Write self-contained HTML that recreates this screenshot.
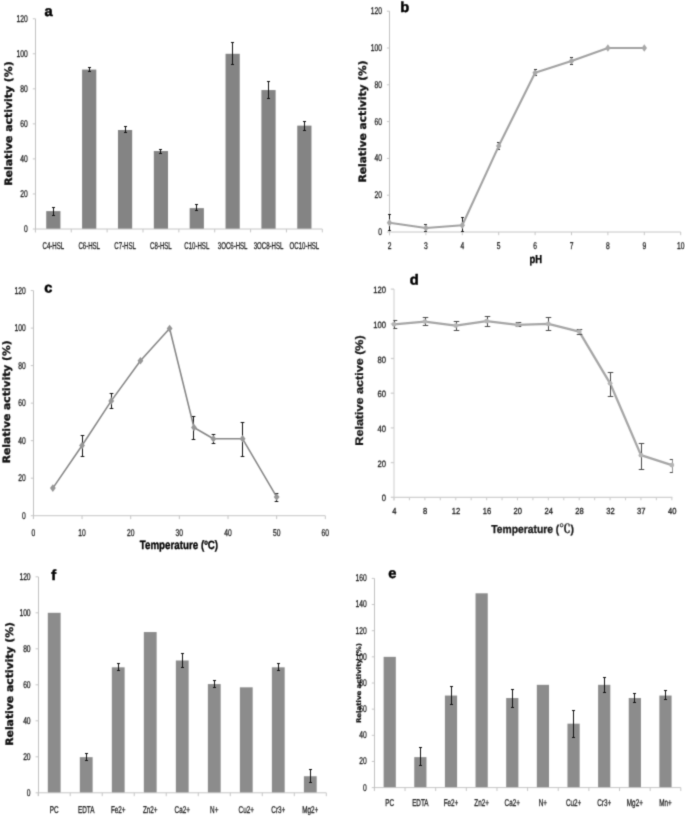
<!DOCTYPE html>
<html lang="en">
<head>
<meta charset="utf-8">
<title>Figure: relative activity panels a-f</title>
<style>
html,body{margin:0;padding:0;background:#fff;}
body{width:685px;height:816px;overflow:hidden;font-family:"Liberation Sans","DejaVu Sans",sans-serif;}
svg{display:block;}
svg text{text-rendering:geometricPrecision;}

.tk{stroke:#1c1c1c;stroke-width:0.3px;}
</style>
</head>
<body>
<svg width="685" height="816" viewBox="0 0 685 816">
<rect x="0" y="0" width="685" height="816" fill="#ffffff"/>
<defs><filter id="soft" x="-2%" y="-2%" width="104%" height="104%" color-interpolation-filters="sRGB"><feConvolveMatrix order="3" kernelMatrix="0.0225 0.1050 0.0225 0.1050 0.4900 0.1050 0.0225 0.1050 0.0225" divisor="1" edgeMode="duplicate" preserveAlpha="false"/></filter></defs>
<g id="fig" filter="url(#soft)">
<g id="panel-a">
<line x1="35.50" y1="18.76" x2="35.50" y2="232.20" stroke="#b6b6b6" stroke-width="0.85"/>
<line x1="32.80" y1="229.00" x2="35.40" y2="229.00" stroke="#c6c6c6" stroke-width="1"/>
<text transform="translate(27.80,231.94) scale(0.685,1)" font-family='"Liberation Sans", "DejaVu Sans", sans-serif' font-size="9.8" font-weight="normal" text-anchor="end" fill="#1c1c1c" class="tk">0</text>
<line x1="32.80" y1="193.96" x2="35.40" y2="193.96" stroke="#c6c6c6" stroke-width="1"/>
<text transform="translate(27.80,196.90) scale(0.685,1)" font-family='"Liberation Sans", "DejaVu Sans", sans-serif' font-size="9.8" font-weight="normal" text-anchor="end" fill="#1c1c1c" class="tk">20</text>
<line x1="32.80" y1="158.92" x2="35.40" y2="158.92" stroke="#c6c6c6" stroke-width="1"/>
<text transform="translate(27.80,161.86) scale(0.685,1)" font-family='"Liberation Sans", "DejaVu Sans", sans-serif' font-size="9.8" font-weight="normal" text-anchor="end" fill="#1c1c1c" class="tk">40</text>
<line x1="32.80" y1="123.88" x2="35.40" y2="123.88" stroke="#c6c6c6" stroke-width="1"/>
<text transform="translate(27.80,126.82) scale(0.685,1)" font-family='"Liberation Sans", "DejaVu Sans", sans-serif' font-size="9.8" font-weight="normal" text-anchor="end" fill="#1c1c1c" class="tk">60</text>
<line x1="32.80" y1="88.84" x2="35.40" y2="88.84" stroke="#c6c6c6" stroke-width="1"/>
<text transform="translate(27.80,91.78) scale(0.685,1)" font-family='"Liberation Sans", "DejaVu Sans", sans-serif' font-size="9.8" font-weight="normal" text-anchor="end" fill="#1c1c1c" class="tk">80</text>
<line x1="32.80" y1="53.80" x2="35.40" y2="53.80" stroke="#c6c6c6" stroke-width="1"/>
<text transform="translate(27.80,56.74) scale(0.685,1)" font-family='"Liberation Sans", "DejaVu Sans", sans-serif' font-size="9.8" font-weight="normal" text-anchor="end" fill="#1c1c1c" class="tk">100</text>
<line x1="32.80" y1="18.76" x2="35.40" y2="18.76" stroke="#c6c6c6" stroke-width="1"/>
<text transform="translate(27.80,21.70) scale(0.685,1)" font-family='"Liberation Sans", "DejaVu Sans", sans-serif' font-size="9.8" font-weight="normal" text-anchor="end" fill="#1c1c1c" class="tk">120</text>
<rect x="46.23" y="211.13" width="14.20" height="17.87" fill="#848484"/>
<rect x="82.09" y="69.57" width="14.20" height="159.43" fill="#848484"/>
<rect x="117.96" y="130.01" width="14.20" height="98.99" fill="#848484"/>
<rect x="153.82" y="151.04" width="14.20" height="77.96" fill="#848484"/>
<rect x="189.68" y="208.15" width="14.20" height="20.85" fill="#848484"/>
<rect x="225.54" y="53.80" width="14.20" height="175.20" fill="#848484"/>
<rect x="261.41" y="90.07" width="14.20" height="138.93" fill="#848484"/>
<rect x="297.27" y="125.63" width="14.20" height="103.37" fill="#848484"/>
<line x1="35.40" y1="229.00" x2="322.30" y2="229.00" stroke="#c6c6c6" stroke-width="1"/>
<line x1="35.40" y1="229.00" x2="35.40" y2="232.40" stroke="#c6c6c6" stroke-width="1"/>
<line x1="71.26" y1="229.00" x2="71.26" y2="232.40" stroke="#c6c6c6" stroke-width="1"/>
<line x1="107.12" y1="229.00" x2="107.12" y2="232.40" stroke="#c6c6c6" stroke-width="1"/>
<line x1="142.99" y1="229.00" x2="142.99" y2="232.40" stroke="#c6c6c6" stroke-width="1"/>
<line x1="178.85" y1="229.00" x2="178.85" y2="232.40" stroke="#c6c6c6" stroke-width="1"/>
<line x1="214.71" y1="229.00" x2="214.71" y2="232.40" stroke="#c6c6c6" stroke-width="1"/>
<line x1="250.58" y1="229.00" x2="250.58" y2="232.40" stroke="#c6c6c6" stroke-width="1"/>
<line x1="286.44" y1="229.00" x2="286.44" y2="232.40" stroke="#c6c6c6" stroke-width="1"/>
<line x1="322.30" y1="229.00" x2="322.30" y2="232.40" stroke="#c6c6c6" stroke-width="1"/>
<line x1="53.50" y1="207.00" x2="53.50" y2="216.00" stroke="#111" stroke-width="1.0"/>
<line x1="52.00" y1="207.50" x2="55.00" y2="207.50" stroke="#111" stroke-width="1.0"/>
<line x1="52.00" y1="215.50" x2="55.00" y2="215.50" stroke="#111" stroke-width="1.0"/>
<text transform="translate(53.33,248.80) scale(0.62,1)" font-family='"Liberation Sans", "DejaVu Sans", sans-serif' font-size="9.8" font-weight="normal" text-anchor="middle" fill="#1c1c1c" class="tk">C4-HSL</text>
<line x1="89.50" y1="67.00" x2="89.50" y2="72.00" stroke="#111" stroke-width="1.0"/>
<line x1="88.00" y1="67.50" x2="91.00" y2="67.50" stroke="#111" stroke-width="1.0"/>
<line x1="88.00" y1="71.50" x2="91.00" y2="71.50" stroke="#111" stroke-width="1.0"/>
<text transform="translate(89.19,248.80) scale(0.62,1)" font-family='"Liberation Sans", "DejaVu Sans", sans-serif' font-size="9.8" font-weight="normal" text-anchor="middle" fill="#1c1c1c" class="tk">C6-HSL</text>
<line x1="125.50" y1="126.00" x2="125.50" y2="133.00" stroke="#111" stroke-width="1.0"/>
<line x1="124.00" y1="126.50" x2="127.00" y2="126.50" stroke="#111" stroke-width="1.0"/>
<line x1="124.00" y1="132.50" x2="127.00" y2="132.50" stroke="#111" stroke-width="1.0"/>
<text transform="translate(125.06,248.80) scale(0.62,1)" font-family='"Liberation Sans", "DejaVu Sans", sans-serif' font-size="9.8" font-weight="normal" text-anchor="middle" fill="#1c1c1c" class="tk">C7-HSL</text>
<line x1="160.50" y1="149.00" x2="160.50" y2="154.00" stroke="#111" stroke-width="1.0"/>
<line x1="159.00" y1="149.50" x2="162.00" y2="149.50" stroke="#111" stroke-width="1.0"/>
<line x1="159.00" y1="153.50" x2="162.00" y2="153.50" stroke="#111" stroke-width="1.0"/>
<text transform="translate(160.92,248.80) scale(0.62,1)" font-family='"Liberation Sans", "DejaVu Sans", sans-serif' font-size="9.8" font-weight="normal" text-anchor="middle" fill="#1c1c1c" class="tk">C8-HSL</text>
<line x1="196.50" y1="204.00" x2="196.50" y2="211.00" stroke="#111" stroke-width="1.0"/>
<line x1="195.00" y1="204.50" x2="198.00" y2="204.50" stroke="#111" stroke-width="1.0"/>
<line x1="195.00" y1="210.50" x2="198.00" y2="210.50" stroke="#111" stroke-width="1.0"/>
<text transform="translate(196.78,248.80) scale(0.62,1)" font-family='"Liberation Sans", "DejaVu Sans", sans-serif' font-size="9.8" font-weight="normal" text-anchor="middle" fill="#1c1c1c" class="tk">C10-HSL</text>
<line x1="232.50" y1="42.00" x2="232.50" y2="65.00" stroke="#111" stroke-width="1.0"/>
<line x1="231.00" y1="42.50" x2="234.00" y2="42.50" stroke="#111" stroke-width="1.0"/>
<line x1="231.00" y1="64.50" x2="234.00" y2="64.50" stroke="#111" stroke-width="1.0"/>
<text transform="translate(232.64,248.80) scale(0.62,1)" font-family='"Liberation Sans", "DejaVu Sans", sans-serif' font-size="9.8" font-weight="normal" text-anchor="middle" fill="#1c1c1c" class="tk">3OC6-HSL</text>
<line x1="268.50" y1="81.00" x2="268.50" y2="99.00" stroke="#111" stroke-width="1.0"/>
<line x1="267.00" y1="81.50" x2="270.00" y2="81.50" stroke="#111" stroke-width="1.0"/>
<line x1="267.00" y1="98.50" x2="270.00" y2="98.50" stroke="#111" stroke-width="1.0"/>
<text transform="translate(268.51,248.80) scale(0.62,1)" font-family='"Liberation Sans", "DejaVu Sans", sans-serif' font-size="9.8" font-weight="normal" text-anchor="middle" fill="#1c1c1c" class="tk">3OC8-HSL</text>
<line x1="304.50" y1="121.00" x2="304.50" y2="131.00" stroke="#111" stroke-width="1.0"/>
<line x1="303.00" y1="121.50" x2="306.00" y2="121.50" stroke="#111" stroke-width="1.0"/>
<line x1="303.00" y1="130.50" x2="306.00" y2="130.50" stroke="#111" stroke-width="1.0"/>
<text transform="translate(304.37,248.80) scale(0.62,1)" font-family='"Liberation Sans", "DejaVu Sans", sans-serif' font-size="9.8" font-weight="normal" text-anchor="middle" fill="#1c1c1c" class="tk">OC10-HSL</text>
<text transform="translate(11.50,123.60) rotate(-90)" font-family='"DejaVu Sans", "Liberation Sans", sans-serif' font-size="10.2" font-weight="bold" text-anchor="middle" fill="#111" stroke="#111" stroke-width="0.35" textLength="124.4" lengthAdjust="spacingAndGlyphs">Relative activity (%)</text>
<text transform="translate(44.6,16) rotate(0.3)" font-family='"Liberation Sans", "DejaVu Sans", sans-serif' font-size="14.6" font-weight="bold" fill="#000" stroke="#000" stroke-width="0.5" stroke-linejoin="round">a</text>
</g>
<g id="panel-b">
<line x1="389.50" y1="11.20" x2="389.50" y2="235.20" stroke="#b6b6b6" stroke-width="0.85"/>
<line x1="386.90" y1="232.00" x2="389.50" y2="232.00" stroke="#c6c6c6" stroke-width="1"/>
<text transform="translate(381.90,234.94) scale(0.685,1)" font-family='"Liberation Sans", "DejaVu Sans", sans-serif' font-size="9.8" font-weight="normal" text-anchor="end" fill="#1c1c1c" class="tk">0</text>
<line x1="386.90" y1="195.20" x2="389.50" y2="195.20" stroke="#c6c6c6" stroke-width="1"/>
<text transform="translate(381.90,198.14) scale(0.685,1)" font-family='"Liberation Sans", "DejaVu Sans", sans-serif' font-size="9.8" font-weight="normal" text-anchor="end" fill="#1c1c1c" class="tk">20</text>
<line x1="386.90" y1="158.40" x2="389.50" y2="158.40" stroke="#c6c6c6" stroke-width="1"/>
<text transform="translate(381.90,161.34) scale(0.685,1)" font-family='"Liberation Sans", "DejaVu Sans", sans-serif' font-size="9.8" font-weight="normal" text-anchor="end" fill="#1c1c1c" class="tk">40</text>
<line x1="386.90" y1="121.60" x2="389.50" y2="121.60" stroke="#c6c6c6" stroke-width="1"/>
<text transform="translate(381.90,124.54) scale(0.685,1)" font-family='"Liberation Sans", "DejaVu Sans", sans-serif' font-size="9.8" font-weight="normal" text-anchor="end" fill="#1c1c1c" class="tk">60</text>
<line x1="386.90" y1="84.80" x2="389.50" y2="84.80" stroke="#c6c6c6" stroke-width="1"/>
<text transform="translate(381.90,87.74) scale(0.685,1)" font-family='"Liberation Sans", "DejaVu Sans", sans-serif' font-size="9.8" font-weight="normal" text-anchor="end" fill="#1c1c1c" class="tk">80</text>
<line x1="386.90" y1="48.00" x2="389.50" y2="48.00" stroke="#c6c6c6" stroke-width="1"/>
<text transform="translate(381.90,50.94) scale(0.685,1)" font-family='"Liberation Sans", "DejaVu Sans", sans-serif' font-size="9.8" font-weight="normal" text-anchor="end" fill="#1c1c1c" class="tk">100</text>
<line x1="386.90" y1="11.20" x2="389.50" y2="11.20" stroke="#c6c6c6" stroke-width="1"/>
<text transform="translate(381.90,14.14) scale(0.685,1)" font-family='"Liberation Sans", "DejaVu Sans", sans-serif' font-size="9.8" font-weight="normal" text-anchor="end" fill="#1c1c1c" class="tk">120</text>
<line x1="389.50" y1="232.00" x2="680.70" y2="232.00" stroke="#c6c6c6" stroke-width="1"/>
<line x1="389.50" y1="232.00" x2="389.50" y2="235.20" stroke="#c6c6c6" stroke-width="1"/>
<text transform="translate(389.50,249.20) scale(0.685,1)" font-family='"Liberation Sans", "DejaVu Sans", sans-serif' font-size="9.8" font-weight="normal" text-anchor="middle" fill="#1c1c1c" class="tk">2</text>
<line x1="425.90" y1="232.00" x2="425.90" y2="235.20" stroke="#c6c6c6" stroke-width="1"/>
<text transform="translate(425.90,249.20) scale(0.685,1)" font-family='"Liberation Sans", "DejaVu Sans", sans-serif' font-size="9.8" font-weight="normal" text-anchor="middle" fill="#1c1c1c" class="tk">3</text>
<line x1="462.30" y1="232.00" x2="462.30" y2="235.20" stroke="#c6c6c6" stroke-width="1"/>
<text transform="translate(462.30,249.20) scale(0.685,1)" font-family='"Liberation Sans", "DejaVu Sans", sans-serif' font-size="9.8" font-weight="normal" text-anchor="middle" fill="#1c1c1c" class="tk">4</text>
<line x1="498.70" y1="232.00" x2="498.70" y2="235.20" stroke="#c6c6c6" stroke-width="1"/>
<text transform="translate(498.70,249.20) scale(0.685,1)" font-family='"Liberation Sans", "DejaVu Sans", sans-serif' font-size="9.8" font-weight="normal" text-anchor="middle" fill="#1c1c1c" class="tk">5</text>
<line x1="535.10" y1="232.00" x2="535.10" y2="235.20" stroke="#c6c6c6" stroke-width="1"/>
<text transform="translate(535.10,249.20) scale(0.685,1)" font-family='"Liberation Sans", "DejaVu Sans", sans-serif' font-size="9.8" font-weight="normal" text-anchor="middle" fill="#1c1c1c" class="tk">6</text>
<line x1="571.50" y1="232.00" x2="571.50" y2="235.20" stroke="#c6c6c6" stroke-width="1"/>
<text transform="translate(571.50,249.20) scale(0.685,1)" font-family='"Liberation Sans", "DejaVu Sans", sans-serif' font-size="9.8" font-weight="normal" text-anchor="middle" fill="#1c1c1c" class="tk">7</text>
<line x1="607.90" y1="232.00" x2="607.90" y2="235.20" stroke="#c6c6c6" stroke-width="1"/>
<text transform="translate(607.90,249.20) scale(0.685,1)" font-family='"Liberation Sans", "DejaVu Sans", sans-serif' font-size="9.8" font-weight="normal" text-anchor="middle" fill="#1c1c1c" class="tk">8</text>
<line x1="644.30" y1="232.00" x2="644.30" y2="235.20" stroke="#c6c6c6" stroke-width="1"/>
<text transform="translate(644.30,249.20) scale(0.685,1)" font-family='"Liberation Sans", "DejaVu Sans", sans-serif' font-size="9.8" font-weight="normal" text-anchor="middle" fill="#1c1c1c" class="tk">9</text>
<line x1="680.70" y1="232.00" x2="680.70" y2="235.20" stroke="#c6c6c6" stroke-width="1"/>
<text transform="translate(680.70,249.20) scale(0.685,1)" font-family='"Liberation Sans", "DejaVu Sans", sans-serif' font-size="9.8" font-weight="normal" text-anchor="middle" fill="#1c1c1c" class="tk">10</text>
<line x1="389.50" y1="214.00" x2="389.50" y2="231.00" stroke="#111" stroke-width="1.0"/>
<line x1="388.10" y1="214.50" x2="390.90" y2="214.50" stroke="#111" stroke-width="1.0"/>
<line x1="388.10" y1="230.50" x2="390.90" y2="230.50" stroke="#111" stroke-width="1.0"/>
<line x1="425.50" y1="224.00" x2="425.50" y2="232.00" stroke="#111" stroke-width="1.0"/>
<line x1="424.10" y1="224.50" x2="426.90" y2="224.50" stroke="#111" stroke-width="1.0"/>
<line x1="424.10" y1="231.50" x2="426.90" y2="231.50" stroke="#111" stroke-width="1.0"/>
<line x1="462.50" y1="217.00" x2="462.50" y2="232.00" stroke="#111" stroke-width="1.0"/>
<line x1="461.10" y1="217.50" x2="463.90" y2="217.50" stroke="#111" stroke-width="1.0"/>
<line x1="461.10" y1="231.50" x2="463.90" y2="231.50" stroke="#111" stroke-width="1.0"/>
<line x1="498.50" y1="142.00" x2="498.50" y2="150.00" stroke="#111" stroke-width="1.0"/>
<line x1="497.10" y1="142.50" x2="499.90" y2="142.50" stroke="#111" stroke-width="1.0"/>
<line x1="497.10" y1="149.50" x2="499.90" y2="149.50" stroke="#111" stroke-width="1.0"/>
<line x1="535.50" y1="69.00" x2="535.50" y2="76.00" stroke="#111" stroke-width="1.0"/>
<line x1="534.10" y1="69.50" x2="536.90" y2="69.50" stroke="#111" stroke-width="1.0"/>
<line x1="534.10" y1="75.50" x2="536.90" y2="75.50" stroke="#111" stroke-width="1.0"/>
<line x1="571.50" y1="57.00" x2="571.50" y2="65.00" stroke="#111" stroke-width="1.0"/>
<line x1="570.10" y1="57.50" x2="572.90" y2="57.50" stroke="#111" stroke-width="1.0"/>
<line x1="570.10" y1="64.50" x2="572.90" y2="64.50" stroke="#111" stroke-width="1.0"/>
<polyline fill="none" stroke="#a2a2a2" stroke-width="2.1" stroke-linejoin="round" points="389.50,222.71 425.90,227.95 462.30,225.19 498.70,146.07 535.10,72.84 571.50,61.06 607.90,48.00 644.30,48.00"/>
<polygon points="386.80,222.71 389.50,219.01 392.20,222.71 389.50,226.41" fill="#a8a8a8"/>
<polygon points="423.20,227.95 425.90,224.25 428.60,227.95 425.90,231.65" fill="#a8a8a8"/>
<polygon points="459.60,225.19 462.30,221.49 465.00,225.19 462.30,228.89" fill="#a8a8a8"/>
<polygon points="496.00,146.07 498.70,142.37 501.40,146.07 498.70,149.77" fill="#a8a8a8"/>
<polygon points="532.40,72.84 535.10,69.14 537.80,72.84 535.10,76.54" fill="#a8a8a8"/>
<polygon points="568.80,61.06 571.50,57.36 574.20,61.06 571.50,64.76" fill="#a8a8a8"/>
<polygon points="605.20,48.00 607.90,44.30 610.60,48.00 607.90,51.70" fill="#a8a8a8"/>
<polygon points="641.60,48.00 644.30,44.30 647.00,48.00 644.30,51.70" fill="#a8a8a8"/>
<text transform="translate(366.30,121.40) rotate(-90)" font-family='"DejaVu Sans", "Liberation Sans", sans-serif' font-size="10.2" font-weight="bold" text-anchor="middle" fill="#111" stroke="#111" stroke-width="0.35" textLength="122.2" lengthAdjust="spacingAndGlyphs">Relative activity (%)</text>
<text x="535.80" y="262.90" font-family='"Liberation Sans", "DejaVu Sans", sans-serif' font-size="11.5" font-weight="bold" text-anchor="middle" fill="#000" stroke="#000" stroke-width="0.35" textLength="12.5" lengthAdjust="spacingAndGlyphs">pH</text>
<text transform="translate(400.3,12) rotate(0.3)" font-family='"Liberation Sans", "DejaVu Sans", sans-serif' font-size="14.6" font-weight="bold" fill="#000" stroke="#000" stroke-width="0.5" stroke-linejoin="round">b</text>
</g>
<g id="panel-c">
<line x1="33.50" y1="290.58" x2="33.50" y2="518.90" stroke="#b6b6b6" stroke-width="0.85"/>
<line x1="30.80" y1="515.70" x2="33.40" y2="515.70" stroke="#c6c6c6" stroke-width="1"/>
<text transform="translate(25.80,518.64) scale(0.685,1)" font-family='"Liberation Sans", "DejaVu Sans", sans-serif' font-size="9.8" font-weight="normal" text-anchor="end" fill="#1c1c1c" class="tk">0</text>
<line x1="30.80" y1="478.18" x2="33.40" y2="478.18" stroke="#c6c6c6" stroke-width="1"/>
<text transform="translate(25.80,481.12) scale(0.685,1)" font-family='"Liberation Sans", "DejaVu Sans", sans-serif' font-size="9.8" font-weight="normal" text-anchor="end" fill="#1c1c1c" class="tk">20</text>
<line x1="30.80" y1="440.66" x2="33.40" y2="440.66" stroke="#c6c6c6" stroke-width="1"/>
<text transform="translate(25.80,443.60) scale(0.685,1)" font-family='"Liberation Sans", "DejaVu Sans", sans-serif' font-size="9.8" font-weight="normal" text-anchor="end" fill="#1c1c1c" class="tk">40</text>
<line x1="30.80" y1="403.14" x2="33.40" y2="403.14" stroke="#c6c6c6" stroke-width="1"/>
<text transform="translate(25.80,406.08) scale(0.685,1)" font-family='"Liberation Sans", "DejaVu Sans", sans-serif' font-size="9.8" font-weight="normal" text-anchor="end" fill="#1c1c1c" class="tk">60</text>
<line x1="30.80" y1="365.62" x2="33.40" y2="365.62" stroke="#c6c6c6" stroke-width="1"/>
<text transform="translate(25.80,368.56) scale(0.685,1)" font-family='"Liberation Sans", "DejaVu Sans", sans-serif' font-size="9.8" font-weight="normal" text-anchor="end" fill="#1c1c1c" class="tk">80</text>
<line x1="30.80" y1="328.10" x2="33.40" y2="328.10" stroke="#c6c6c6" stroke-width="1"/>
<text transform="translate(25.80,331.04) scale(0.685,1)" font-family='"Liberation Sans", "DejaVu Sans", sans-serif' font-size="9.8" font-weight="normal" text-anchor="end" fill="#1c1c1c" class="tk">100</text>
<line x1="30.80" y1="290.58" x2="33.40" y2="290.58" stroke="#c6c6c6" stroke-width="1"/>
<text transform="translate(25.80,293.52) scale(0.685,1)" font-family='"Liberation Sans", "DejaVu Sans", sans-serif' font-size="9.8" font-weight="normal" text-anchor="end" fill="#1c1c1c" class="tk">120</text>
<line x1="33.40" y1="515.70" x2="325.30" y2="515.70" stroke="#c6c6c6" stroke-width="1"/>
<line x1="33.40" y1="515.70" x2="33.40" y2="519.10" stroke="#c6c6c6" stroke-width="1"/>
<text transform="translate(33.40,536.00) scale(0.685,1)" font-family='"Liberation Sans", "DejaVu Sans", sans-serif' font-size="9.8" font-weight="normal" text-anchor="middle" fill="#1c1c1c" class="tk">0</text>
<line x1="82.05" y1="515.70" x2="82.05" y2="519.10" stroke="#c6c6c6" stroke-width="1"/>
<text transform="translate(82.05,536.00) scale(0.685,1)" font-family='"Liberation Sans", "DejaVu Sans", sans-serif' font-size="9.8" font-weight="normal" text-anchor="middle" fill="#1c1c1c" class="tk">10</text>
<line x1="130.70" y1="515.70" x2="130.70" y2="519.10" stroke="#c6c6c6" stroke-width="1"/>
<text transform="translate(130.70,536.00) scale(0.685,1)" font-family='"Liberation Sans", "DejaVu Sans", sans-serif' font-size="9.8" font-weight="normal" text-anchor="middle" fill="#1c1c1c" class="tk">20</text>
<line x1="179.35" y1="515.70" x2="179.35" y2="519.10" stroke="#c6c6c6" stroke-width="1"/>
<text transform="translate(179.35,536.00) scale(0.685,1)" font-family='"Liberation Sans", "DejaVu Sans", sans-serif' font-size="9.8" font-weight="normal" text-anchor="middle" fill="#1c1c1c" class="tk">30</text>
<line x1="228.00" y1="515.70" x2="228.00" y2="519.10" stroke="#c6c6c6" stroke-width="1"/>
<text transform="translate(228.00,536.00) scale(0.685,1)" font-family='"Liberation Sans", "DejaVu Sans", sans-serif' font-size="9.8" font-weight="normal" text-anchor="middle" fill="#1c1c1c" class="tk">40</text>
<line x1="276.65" y1="515.70" x2="276.65" y2="519.10" stroke="#c6c6c6" stroke-width="1"/>
<text transform="translate(276.65,536.00) scale(0.685,1)" font-family='"Liberation Sans", "DejaVu Sans", sans-serif' font-size="9.8" font-weight="normal" text-anchor="middle" fill="#1c1c1c" class="tk">50</text>
<line x1="325.30" y1="515.70" x2="325.30" y2="519.10" stroke="#c6c6c6" stroke-width="1"/>
<text transform="translate(325.30,536.00) scale(0.685,1)" font-family='"Liberation Sans", "DejaVu Sans", sans-serif' font-size="9.8" font-weight="normal" text-anchor="middle" fill="#1c1c1c" class="tk">60</text>
<line x1="82.50" y1="435.00" x2="82.50" y2="457.00" stroke="#111" stroke-width="1.0"/>
<line x1="80.65" y1="435.50" x2="84.35" y2="435.50" stroke="#111" stroke-width="1.0"/>
<line x1="80.65" y1="456.50" x2="84.35" y2="456.50" stroke="#111" stroke-width="1.0"/>
<line x1="111.50" y1="393.00" x2="111.50" y2="409.00" stroke="#111" stroke-width="1.0"/>
<line x1="109.65" y1="393.50" x2="113.35" y2="393.50" stroke="#111" stroke-width="1.0"/>
<line x1="109.65" y1="408.50" x2="113.35" y2="408.50" stroke="#111" stroke-width="1.0"/>
<line x1="193.50" y1="416.00" x2="193.50" y2="440.00" stroke="#111" stroke-width="1.0"/>
<line x1="191.65" y1="416.50" x2="195.35" y2="416.50" stroke="#111" stroke-width="1.0"/>
<line x1="191.65" y1="439.50" x2="195.35" y2="439.50" stroke="#111" stroke-width="1.0"/>
<line x1="213.50" y1="434.00" x2="213.50" y2="444.00" stroke="#111" stroke-width="1.0"/>
<line x1="211.65" y1="434.50" x2="215.35" y2="434.50" stroke="#111" stroke-width="1.0"/>
<line x1="211.65" y1="443.50" x2="215.35" y2="443.50" stroke="#111" stroke-width="1.0"/>
<line x1="242.50" y1="422.00" x2="242.50" y2="457.00" stroke="#111" stroke-width="1.0"/>
<line x1="240.65" y1="422.50" x2="244.35" y2="422.50" stroke="#111" stroke-width="1.0"/>
<line x1="240.65" y1="456.50" x2="244.35" y2="456.50" stroke="#111" stroke-width="1.0"/>
<line x1="276.50" y1="493.00" x2="276.50" y2="502.00" stroke="#111" stroke-width="1.0"/>
<line x1="274.65" y1="493.50" x2="278.35" y2="493.50" stroke="#111" stroke-width="1.0"/>
<line x1="274.65" y1="501.50" x2="278.35" y2="501.50" stroke="#111" stroke-width="1.0"/>
<polyline fill="none" stroke="#868686" stroke-width="1.55" stroke-linejoin="round" points="52.86,488.12 82.05,445.54 111.24,400.89 140.43,360.74 169.62,328.48 193.95,427.53 213.41,438.78 242.60,438.78 276.65,496.94"/>
<polygon points="49.96,488.12 52.86,484.32 55.76,488.12 52.86,491.92" fill="#969696"/>
<polygon points="79.15,445.54 82.05,441.74 84.95,445.54 82.05,449.34" fill="#969696"/>
<polygon points="108.34,400.89 111.24,397.09 114.14,400.89 111.24,404.69" fill="#969696"/>
<polygon points="137.53,360.74 140.43,356.94 143.33,360.74 140.43,364.54" fill="#969696"/>
<polygon points="166.72,328.48 169.62,324.68 172.52,328.48 169.62,332.28" fill="#969696"/>
<polygon points="191.05,427.53 193.95,423.73 196.85,427.53 193.95,431.33" fill="#969696"/>
<polygon points="210.50,438.78 213.41,434.98 216.31,438.78 213.41,442.58" fill="#969696"/>
<polygon points="239.70,438.78 242.60,434.98 245.50,438.78 242.60,442.58" fill="#969696"/>
<polygon points="273.75,496.94 276.65,493.14 279.55,496.94 276.65,500.74" fill="#969696"/>
<text transform="translate(9.90,401.80) rotate(-90)" font-family='"DejaVu Sans", "Liberation Sans", sans-serif' font-size="10.2" font-weight="bold" text-anchor="middle" fill="#111" stroke="#111" stroke-width="0.35" textLength="123.0" lengthAdjust="spacingAndGlyphs">Relative activity (%)</text>
<text x="178.90" y="549.20" font-family='"Liberation Sans", "DejaVu Sans", sans-serif' font-size="12" font-weight="bold" text-anchor="middle" fill="#000" stroke="#000" stroke-width="0.35" textLength="78.3" lengthAdjust="spacingAndGlyphs">Temperature (ºC)</text>
<text transform="translate(44.2,292.6) rotate(0.3)" font-family='"Liberation Sans", "DejaVu Sans", sans-serif' font-size="14.6" font-weight="bold" fill="#000" stroke="#000" stroke-width="0.5" stroke-linejoin="round">c</text>
</g>
<g id="panel-d">
<line x1="394.00" y1="289.10" x2="394.00" y2="500.50" stroke="#d4d4d4" stroke-width="1.15"/>
<line x1="390.80" y1="497.30" x2="394.00" y2="497.30" stroke="#cfcfcf" stroke-width="1.3"/>
<text transform="translate(386.00,501.40) scale(0.83,1)" font-family='"Liberation Sans", "DejaVu Sans", sans-serif' font-size="9.2" font-weight="normal" text-anchor="end" fill="#1c1c1c" class="tk">0</text>
<line x1="390.80" y1="462.60" x2="394.00" y2="462.60" stroke="#cfcfcf" stroke-width="1.3"/>
<text transform="translate(386.00,466.70) scale(0.83,1)" font-family='"Liberation Sans", "DejaVu Sans", sans-serif' font-size="9.2" font-weight="normal" text-anchor="end" fill="#1c1c1c" class="tk">20</text>
<line x1="390.80" y1="427.90" x2="394.00" y2="427.90" stroke="#cfcfcf" stroke-width="1.3"/>
<text transform="translate(386.00,432.00) scale(0.83,1)" font-family='"Liberation Sans", "DejaVu Sans", sans-serif' font-size="9.2" font-weight="normal" text-anchor="end" fill="#1c1c1c" class="tk">40</text>
<line x1="390.80" y1="393.20" x2="394.00" y2="393.20" stroke="#cfcfcf" stroke-width="1.3"/>
<text transform="translate(386.00,397.30) scale(0.83,1)" font-family='"Liberation Sans", "DejaVu Sans", sans-serif' font-size="9.2" font-weight="normal" text-anchor="end" fill="#1c1c1c" class="tk">60</text>
<line x1="390.80" y1="358.50" x2="394.00" y2="358.50" stroke="#cfcfcf" stroke-width="1.3"/>
<text transform="translate(386.00,362.60) scale(0.83,1)" font-family='"Liberation Sans", "DejaVu Sans", sans-serif' font-size="9.2" font-weight="normal" text-anchor="end" fill="#1c1c1c" class="tk">80</text>
<line x1="390.80" y1="323.80" x2="394.00" y2="323.80" stroke="#cfcfcf" stroke-width="1.3"/>
<text transform="translate(386.00,327.90) scale(0.83,1)" font-family='"Liberation Sans", "DejaVu Sans", sans-serif' font-size="9.2" font-weight="normal" text-anchor="end" fill="#1c1c1c" class="tk">100</text>
<line x1="390.80" y1="289.10" x2="394.00" y2="289.10" stroke="#cfcfcf" stroke-width="1.3"/>
<text transform="translate(386.00,293.20) scale(0.83,1)" font-family='"Liberation Sans", "DejaVu Sans", sans-serif' font-size="9.2" font-weight="normal" text-anchor="end" fill="#1c1c1c" class="tk">120</text>
<line x1="394.00" y1="497.30" x2="672.43" y2="497.30" stroke="#cfcfcf" stroke-width="1.3"/>
<line x1="394.00" y1="497.30" x2="394.00" y2="500.30" stroke="#cfcfcf" stroke-width="1.1"/>
<line x1="409.44" y1="497.30" x2="409.44" y2="500.30" stroke="#cfcfcf" stroke-width="1.1"/>
<line x1="424.87" y1="497.30" x2="424.87" y2="500.30" stroke="#cfcfcf" stroke-width="1.1"/>
<line x1="440.31" y1="497.30" x2="440.31" y2="500.30" stroke="#cfcfcf" stroke-width="1.1"/>
<line x1="455.74" y1="497.30" x2="455.74" y2="500.30" stroke="#cfcfcf" stroke-width="1.1"/>
<line x1="471.18" y1="497.30" x2="471.18" y2="500.30" stroke="#cfcfcf" stroke-width="1.1"/>
<line x1="486.61" y1="497.30" x2="486.61" y2="500.30" stroke="#cfcfcf" stroke-width="1.1"/>
<line x1="502.05" y1="497.30" x2="502.05" y2="500.30" stroke="#cfcfcf" stroke-width="1.1"/>
<line x1="517.48" y1="497.30" x2="517.48" y2="500.30" stroke="#cfcfcf" stroke-width="1.1"/>
<line x1="532.91" y1="497.30" x2="532.91" y2="500.30" stroke="#cfcfcf" stroke-width="1.1"/>
<line x1="548.35" y1="497.30" x2="548.35" y2="500.30" stroke="#cfcfcf" stroke-width="1.1"/>
<line x1="563.78" y1="497.30" x2="563.78" y2="500.30" stroke="#cfcfcf" stroke-width="1.1"/>
<line x1="579.22" y1="497.30" x2="579.22" y2="500.30" stroke="#cfcfcf" stroke-width="1.1"/>
<line x1="594.65" y1="497.30" x2="594.65" y2="500.30" stroke="#cfcfcf" stroke-width="1.1"/>
<line x1="610.09" y1="497.30" x2="610.09" y2="500.30" stroke="#cfcfcf" stroke-width="1.1"/>
<line x1="625.52" y1="497.30" x2="625.52" y2="500.30" stroke="#cfcfcf" stroke-width="1.1"/>
<line x1="640.96" y1="497.30" x2="640.96" y2="500.30" stroke="#cfcfcf" stroke-width="1.1"/>
<line x1="656.39" y1="497.30" x2="656.39" y2="500.30" stroke="#cfcfcf" stroke-width="1.1"/>
<line x1="671.83" y1="497.30" x2="671.83" y2="500.30" stroke="#cfcfcf" stroke-width="1.1"/>
<text transform="translate(394.30,513.90) scale(0.86,1)" font-family='"Liberation Sans", "DejaVu Sans", sans-serif' font-size="8.8" font-weight="normal" text-anchor="middle" fill="#1c1c1c" class="tk">4</text>
<text transform="translate(425.17,513.90) scale(0.86,1)" font-family='"Liberation Sans", "DejaVu Sans", sans-serif' font-size="8.8" font-weight="normal" text-anchor="middle" fill="#1c1c1c" class="tk">8</text>
<text transform="translate(456.04,513.90) scale(0.86,1)" font-family='"Liberation Sans", "DejaVu Sans", sans-serif' font-size="8.8" font-weight="normal" text-anchor="middle" fill="#1c1c1c" class="tk">12</text>
<text transform="translate(486.91,513.90) scale(0.86,1)" font-family='"Liberation Sans", "DejaVu Sans", sans-serif' font-size="8.8" font-weight="normal" text-anchor="middle" fill="#1c1c1c" class="tk">16</text>
<text transform="translate(517.78,513.90) scale(0.86,1)" font-family='"Liberation Sans", "DejaVu Sans", sans-serif' font-size="8.8" font-weight="normal" text-anchor="middle" fill="#1c1c1c" class="tk">20</text>
<text transform="translate(548.65,513.90) scale(0.86,1)" font-family='"Liberation Sans", "DejaVu Sans", sans-serif' font-size="8.8" font-weight="normal" text-anchor="middle" fill="#1c1c1c" class="tk">24</text>
<text transform="translate(579.52,513.90) scale(0.86,1)" font-family='"Liberation Sans", "DejaVu Sans", sans-serif' font-size="8.8" font-weight="normal" text-anchor="middle" fill="#1c1c1c" class="tk">28</text>
<text transform="translate(610.39,513.90) scale(0.86,1)" font-family='"Liberation Sans", "DejaVu Sans", sans-serif' font-size="8.8" font-weight="normal" text-anchor="middle" fill="#1c1c1c" class="tk">32</text>
<text transform="translate(641.26,513.90) scale(0.86,1)" font-family='"Liberation Sans", "DejaVu Sans", sans-serif' font-size="8.8" font-weight="normal" text-anchor="middle" fill="#1c1c1c" class="tk">37</text>
<text transform="translate(672.13,513.90) scale(0.86,1)" font-family='"Liberation Sans", "DejaVu Sans", sans-serif' font-size="8.8" font-weight="normal" text-anchor="middle" fill="#1c1c1c" class="tk">40</text>
<polyline fill="none" stroke="#a6a6a6" stroke-width="2.3" stroke-linejoin="round" points="394.00,324.32 424.87,321.54 455.74,325.53 486.61,321.20 517.48,324.84 548.35,323.97 579.22,331.61 610.09,383.31 640.96,455.14 671.83,465.03"/>
<clipPath id="clipd"><rect x="393.4" y="280" width="279.2" height="225"/></clipPath>
<g clip-path="url(#clipd)">
<line x1="394.50" y1="320.00" x2="394.50" y2="329.00" stroke="#4a4a4a" stroke-width="1.0"/>
<line x1="391.75" y1="320.50" x2="397.25" y2="320.50" stroke="#4a4a4a" stroke-width="1.0"/>
<line x1="391.75" y1="328.50" x2="397.25" y2="328.50" stroke="#4a4a4a" stroke-width="1.0"/>
<line x1="425.50" y1="317.00" x2="425.50" y2="326.00" stroke="#4a4a4a" stroke-width="1.0"/>
<line x1="422.75" y1="317.50" x2="428.25" y2="317.50" stroke="#4a4a4a" stroke-width="1.0"/>
<line x1="422.75" y1="325.50" x2="428.25" y2="325.50" stroke="#4a4a4a" stroke-width="1.0"/>
<line x1="456.50" y1="321.00" x2="456.50" y2="331.00" stroke="#4a4a4a" stroke-width="1.0"/>
<line x1="453.75" y1="321.50" x2="459.25" y2="321.50" stroke="#4a4a4a" stroke-width="1.0"/>
<line x1="453.75" y1="330.50" x2="459.25" y2="330.50" stroke="#4a4a4a" stroke-width="1.0"/>
<line x1="487.50" y1="316.00" x2="487.50" y2="327.00" stroke="#4a4a4a" stroke-width="1.0"/>
<line x1="484.75" y1="316.50" x2="490.25" y2="316.50" stroke="#4a4a4a" stroke-width="1.0"/>
<line x1="484.75" y1="326.50" x2="490.25" y2="326.50" stroke="#4a4a4a" stroke-width="1.0"/>
<line x1="518.50" y1="322.00" x2="518.50" y2="327.00" stroke="#4a4a4a" stroke-width="1.0"/>
<line x1="515.75" y1="322.50" x2="521.25" y2="322.50" stroke="#4a4a4a" stroke-width="1.0"/>
<line x1="515.75" y1="326.50" x2="521.25" y2="326.50" stroke="#4a4a4a" stroke-width="1.0"/>
<line x1="548.50" y1="317.00" x2="548.50" y2="331.00" stroke="#4a4a4a" stroke-width="1.0"/>
<line x1="545.75" y1="317.50" x2="551.25" y2="317.50" stroke="#4a4a4a" stroke-width="1.0"/>
<line x1="545.75" y1="330.50" x2="551.25" y2="330.50" stroke="#4a4a4a" stroke-width="1.0"/>
<line x1="579.50" y1="329.00" x2="579.50" y2="335.00" stroke="#4a4a4a" stroke-width="1.0"/>
<line x1="576.75" y1="329.50" x2="582.25" y2="329.50" stroke="#4a4a4a" stroke-width="1.0"/>
<line x1="576.75" y1="334.50" x2="582.25" y2="334.50" stroke="#4a4a4a" stroke-width="1.0"/>
<line x1="610.50" y1="372.00" x2="610.50" y2="397.00" stroke="#4a4a4a" stroke-width="1.0"/>
<line x1="607.75" y1="372.50" x2="613.25" y2="372.50" stroke="#4a4a4a" stroke-width="1.0"/>
<line x1="607.75" y1="396.50" x2="613.25" y2="396.50" stroke="#4a4a4a" stroke-width="1.0"/>
<line x1="641.50" y1="443.00" x2="641.50" y2="470.00" stroke="#4a4a4a" stroke-width="1.0"/>
<line x1="638.75" y1="443.50" x2="644.25" y2="443.50" stroke="#4a4a4a" stroke-width="1.0"/>
<line x1="638.75" y1="469.50" x2="644.25" y2="469.50" stroke="#4a4a4a" stroke-width="1.0"/>
<line x1="672.50" y1="459.00" x2="672.50" y2="473.00" stroke="#4a4a4a" stroke-width="1.0"/>
<line x1="669.75" y1="459.50" x2="675.25" y2="459.50" stroke="#4a4a4a" stroke-width="1.0"/>
<line x1="669.75" y1="472.50" x2="675.25" y2="472.50" stroke="#4a4a4a" stroke-width="1.0"/>
</g>
<circle cx="394.00" cy="324.32" r="2.4" fill="#b4b4b4"/>
<circle cx="424.87" cy="321.54" r="2.4" fill="#b4b4b4"/>
<circle cx="455.74" cy="325.53" r="2.4" fill="#b4b4b4"/>
<circle cx="486.61" cy="321.20" r="2.4" fill="#b4b4b4"/>
<circle cx="517.48" cy="324.84" r="2.4" fill="#b4b4b4"/>
<circle cx="548.35" cy="323.97" r="2.4" fill="#b4b4b4"/>
<circle cx="579.22" cy="331.61" r="2.4" fill="#b4b4b4"/>
<circle cx="610.09" cy="383.31" r="2.4" fill="#b4b4b4"/>
<circle cx="640.96" cy="455.14" r="2.4" fill="#b4b4b4"/>
<circle cx="671.83" cy="465.03" r="2.4" fill="#b4b4b4"/>
<text transform="translate(363.30,390.50) rotate(-90)" font-family='"Liberation Sans", "DejaVu Sans", sans-serif' font-size="11" font-weight="bold" text-anchor="middle" fill="#161616" stroke="#161616" stroke-width="0.3" textLength="110.4" lengthAdjust="spacingAndGlyphs">Relative active (%)</text>
<text x="532.6" y="532.9" font-family='"Liberation Sans", "DejaVu Sans", sans-serif' font-size="11.5" font-weight="bold" text-anchor="middle" fill="#161616" stroke="#161616" stroke-width="0.3" textLength="82.8" lengthAdjust="spacingAndGlyphs">Temperature (<tspan font-family='"Liberation Serif", "Noto Serif CJK SC", serif' font-weight="bold" font-size="12.5">℃</tspan>)</text>
<text transform="translate(409.8,284.6) rotate(0.3)" font-family='"Liberation Sans", "DejaVu Sans", sans-serif' font-size="14.6" font-weight="bold" fill="#000" stroke="#000" stroke-width="0.5" stroke-linejoin="round">d</text>
</g>
<g id="panel-f">
<line x1="38.50" y1="576.80" x2="38.50" y2="796.00" stroke="#b6b6b6" stroke-width="0.85"/>
<line x1="35.60" y1="792.80" x2="38.20" y2="792.80" stroke="#c6c6c6" stroke-width="1"/>
<text transform="translate(30.60,795.74) scale(0.685,1)" font-family='"Liberation Sans", "DejaVu Sans", sans-serif' font-size="9.8" font-weight="normal" text-anchor="end" fill="#1c1c1c" class="tk">0</text>
<line x1="35.60" y1="756.80" x2="38.20" y2="756.80" stroke="#c6c6c6" stroke-width="1"/>
<text transform="translate(30.60,759.74) scale(0.685,1)" font-family='"Liberation Sans", "DejaVu Sans", sans-serif' font-size="9.8" font-weight="normal" text-anchor="end" fill="#1c1c1c" class="tk">20</text>
<line x1="35.60" y1="720.80" x2="38.20" y2="720.80" stroke="#c6c6c6" stroke-width="1"/>
<text transform="translate(30.60,723.74) scale(0.685,1)" font-family='"Liberation Sans", "DejaVu Sans", sans-serif' font-size="9.8" font-weight="normal" text-anchor="end" fill="#1c1c1c" class="tk">40</text>
<line x1="35.60" y1="684.80" x2="38.20" y2="684.80" stroke="#c6c6c6" stroke-width="1"/>
<text transform="translate(30.60,687.74) scale(0.685,1)" font-family='"Liberation Sans", "DejaVu Sans", sans-serif' font-size="9.8" font-weight="normal" text-anchor="end" fill="#1c1c1c" class="tk">60</text>
<line x1="35.60" y1="648.80" x2="38.20" y2="648.80" stroke="#c6c6c6" stroke-width="1"/>
<text transform="translate(30.60,651.74) scale(0.685,1)" font-family='"Liberation Sans", "DejaVu Sans", sans-serif' font-size="9.8" font-weight="normal" text-anchor="end" fill="#1c1c1c" class="tk">80</text>
<line x1="35.60" y1="612.80" x2="38.20" y2="612.80" stroke="#c6c6c6" stroke-width="1"/>
<text transform="translate(30.60,615.74) scale(0.685,1)" font-family='"Liberation Sans", "DejaVu Sans", sans-serif' font-size="9.8" font-weight="normal" text-anchor="end" fill="#1c1c1c" class="tk">100</text>
<line x1="35.60" y1="576.80" x2="38.20" y2="576.80" stroke="#c6c6c6" stroke-width="1"/>
<text transform="translate(30.60,579.74) scale(0.685,1)" font-family='"Liberation Sans", "DejaVu Sans", sans-serif' font-size="9.8" font-weight="normal" text-anchor="end" fill="#1c1c1c" class="tk">120</text>
<rect x="47.81" y="612.80" width="12.80" height="180.00" fill="#8c8c8c"/>
<rect x="79.82" y="757.16" width="12.80" height="35.64" fill="#8c8c8c"/>
<rect x="111.83" y="667.34" width="12.80" height="125.46" fill="#8c8c8c"/>
<rect x="143.84" y="632.06" width="12.80" height="160.74" fill="#8c8c8c"/>
<rect x="175.85" y="660.50" width="12.80" height="132.30" fill="#8c8c8c"/>
<rect x="207.86" y="684.08" width="12.80" height="108.72" fill="#8c8c8c"/>
<rect x="239.87" y="687.32" width="12.80" height="105.48" fill="#8c8c8c"/>
<rect x="271.88" y="667.34" width="12.80" height="125.46" fill="#8c8c8c"/>
<rect x="303.89" y="776.24" width="12.80" height="16.56" fill="#8c8c8c"/>
<line x1="38.20" y1="792.80" x2="326.30" y2="792.80" stroke="#c6c6c6" stroke-width="1"/>
<line x1="38.20" y1="792.80" x2="38.20" y2="796.20" stroke="#c6c6c6" stroke-width="1"/>
<line x1="70.21" y1="792.80" x2="70.21" y2="796.20" stroke="#c6c6c6" stroke-width="1"/>
<line x1="102.22" y1="792.80" x2="102.22" y2="796.20" stroke="#c6c6c6" stroke-width="1"/>
<line x1="134.23" y1="792.80" x2="134.23" y2="796.20" stroke="#c6c6c6" stroke-width="1"/>
<line x1="166.24" y1="792.80" x2="166.24" y2="796.20" stroke="#c6c6c6" stroke-width="1"/>
<line x1="198.26" y1="792.80" x2="198.26" y2="796.20" stroke="#c6c6c6" stroke-width="1"/>
<line x1="230.27" y1="792.80" x2="230.27" y2="796.20" stroke="#c6c6c6" stroke-width="1"/>
<line x1="262.28" y1="792.80" x2="262.28" y2="796.20" stroke="#c6c6c6" stroke-width="1"/>
<line x1="294.29" y1="792.80" x2="294.29" y2="796.20" stroke="#c6c6c6" stroke-width="1"/>
<line x1="326.30" y1="792.80" x2="326.30" y2="796.20" stroke="#c6c6c6" stroke-width="1"/>
<text transform="translate(54.21,812.90) scale(0.648,1)" font-family='"Liberation Sans", "DejaVu Sans", sans-serif' font-size="9.8" font-weight="normal" text-anchor="middle" fill="#1c1c1c" class="tk">PC</text>
<line x1="86.50" y1="753.00" x2="86.50" y2="761.00" stroke="#111" stroke-width="1.0"/>
<line x1="85.00" y1="753.50" x2="88.00" y2="753.50" stroke="#111" stroke-width="1.0"/>
<line x1="85.00" y1="760.50" x2="88.00" y2="760.50" stroke="#111" stroke-width="1.0"/>
<text transform="translate(86.22,812.90) scale(0.648,1)" font-family='"Liberation Sans", "DejaVu Sans", sans-serif' font-size="9.8" font-weight="normal" text-anchor="middle" fill="#1c1c1c" class="tk">EDTA</text>
<line x1="118.50" y1="663.00" x2="118.50" y2="671.00" stroke="#111" stroke-width="1.0"/>
<line x1="117.00" y1="663.50" x2="120.00" y2="663.50" stroke="#111" stroke-width="1.0"/>
<line x1="117.00" y1="670.50" x2="120.00" y2="670.50" stroke="#111" stroke-width="1.0"/>
<text transform="translate(118.23,812.90) scale(0.648,1)" font-family='"Liberation Sans", "DejaVu Sans", sans-serif' font-size="9.8" font-weight="normal" text-anchor="middle" fill="#1c1c1c" class="tk">Fe2+</text>
<text transform="translate(150.24,812.90) scale(0.648,1)" font-family='"Liberation Sans", "DejaVu Sans", sans-serif' font-size="9.8" font-weight="normal" text-anchor="middle" fill="#1c1c1c" class="tk">Zn2+</text>
<line x1="182.50" y1="653.00" x2="182.50" y2="668.00" stroke="#111" stroke-width="1.0"/>
<line x1="181.00" y1="653.50" x2="184.00" y2="653.50" stroke="#111" stroke-width="1.0"/>
<line x1="181.00" y1="667.50" x2="184.00" y2="667.50" stroke="#111" stroke-width="1.0"/>
<text transform="translate(182.25,812.90) scale(0.648,1)" font-family='"Liberation Sans", "DejaVu Sans", sans-serif' font-size="9.8" font-weight="normal" text-anchor="middle" fill="#1c1c1c" class="tk">Ca2+</text>
<line x1="214.50" y1="680.00" x2="214.50" y2="688.00" stroke="#111" stroke-width="1.0"/>
<line x1="213.00" y1="680.50" x2="216.00" y2="680.50" stroke="#111" stroke-width="1.0"/>
<line x1="213.00" y1="687.50" x2="216.00" y2="687.50" stroke="#111" stroke-width="1.0"/>
<text transform="translate(214.26,812.90) scale(0.648,1)" font-family='"Liberation Sans", "DejaVu Sans", sans-serif' font-size="9.8" font-weight="normal" text-anchor="middle" fill="#1c1c1c" class="tk">N+</text>
<text transform="translate(246.27,812.90) scale(0.648,1)" font-family='"Liberation Sans", "DejaVu Sans", sans-serif' font-size="9.8" font-weight="normal" text-anchor="middle" fill="#1c1c1c" class="tk">Cu2+</text>
<line x1="278.50" y1="663.00" x2="278.50" y2="671.00" stroke="#111" stroke-width="1.0"/>
<line x1="277.00" y1="663.50" x2="280.00" y2="663.50" stroke="#111" stroke-width="1.0"/>
<line x1="277.00" y1="670.50" x2="280.00" y2="670.50" stroke="#111" stroke-width="1.0"/>
<text transform="translate(278.28,812.90) scale(0.648,1)" font-family='"Liberation Sans", "DejaVu Sans", sans-serif' font-size="9.8" font-weight="normal" text-anchor="middle" fill="#1c1c1c" class="tk">Cr3+</text>
<line x1="310.50" y1="769.00" x2="310.50" y2="783.00" stroke="#111" stroke-width="1.0"/>
<line x1="309.00" y1="769.50" x2="312.00" y2="769.50" stroke="#111" stroke-width="1.0"/>
<line x1="309.00" y1="782.50" x2="312.00" y2="782.50" stroke="#111" stroke-width="1.0"/>
<text transform="translate(310.29,812.90) scale(0.648,1)" font-family='"Liberation Sans", "DejaVu Sans", sans-serif' font-size="9.8" font-weight="normal" text-anchor="middle" fill="#1c1c1c" class="tk">Mg2+</text>
<text transform="translate(13.20,683.90) rotate(-90)" font-family='"DejaVu Sans", "Liberation Sans", sans-serif' font-size="10.2" font-weight="bold" text-anchor="middle" fill="#111" stroke="#111" stroke-width="0.35" textLength="123.8" lengthAdjust="spacingAndGlyphs">Relative activity (%)</text>
<text transform="translate(51.2,580) rotate(0.3)" font-family='"Liberation Sans", "DejaVu Sans", sans-serif' font-size="14.6" font-weight="bold" fill="#000" stroke="#000" stroke-width="0.5" stroke-linejoin="round">f</text>
</g>
<g id="panel-e">
<line x1="374.50" y1="578.40" x2="374.50" y2="790.80" stroke="#b6b6b6" stroke-width="0.85"/>
<line x1="371.80" y1="787.60" x2="374.40" y2="787.60" stroke="#c6c6c6" stroke-width="1"/>
<text transform="translate(366.80,790.54) scale(0.685,1)" font-family='"Liberation Sans", "DejaVu Sans", sans-serif' font-size="9.8" font-weight="normal" text-anchor="end" fill="#1c1c1c" class="tk">0</text>
<line x1="371.80" y1="761.45" x2="374.40" y2="761.45" stroke="#c6c6c6" stroke-width="1"/>
<text transform="translate(366.80,764.39) scale(0.685,1)" font-family='"Liberation Sans", "DejaVu Sans", sans-serif' font-size="9.8" font-weight="normal" text-anchor="end" fill="#1c1c1c" class="tk">20</text>
<line x1="371.80" y1="735.30" x2="374.40" y2="735.30" stroke="#c6c6c6" stroke-width="1"/>
<text transform="translate(366.80,738.24) scale(0.685,1)" font-family='"Liberation Sans", "DejaVu Sans", sans-serif' font-size="9.8" font-weight="normal" text-anchor="end" fill="#1c1c1c" class="tk">40</text>
<line x1="371.80" y1="709.15" x2="374.40" y2="709.15" stroke="#c6c6c6" stroke-width="1"/>
<text transform="translate(366.80,712.09) scale(0.685,1)" font-family='"Liberation Sans", "DejaVu Sans", sans-serif' font-size="9.8" font-weight="normal" text-anchor="end" fill="#1c1c1c" class="tk">60</text>
<line x1="371.80" y1="683.00" x2="374.40" y2="683.00" stroke="#c6c6c6" stroke-width="1"/>
<text transform="translate(366.80,685.94) scale(0.685,1)" font-family='"Liberation Sans", "DejaVu Sans", sans-serif' font-size="9.8" font-weight="normal" text-anchor="end" fill="#1c1c1c" class="tk">80</text>
<line x1="371.80" y1="656.85" x2="374.40" y2="656.85" stroke="#c6c6c6" stroke-width="1"/>
<text transform="translate(366.80,659.79) scale(0.685,1)" font-family='"Liberation Sans", "DejaVu Sans", sans-serif' font-size="9.8" font-weight="normal" text-anchor="end" fill="#1c1c1c" class="tk">100</text>
<line x1="371.80" y1="630.70" x2="374.40" y2="630.70" stroke="#c6c6c6" stroke-width="1"/>
<text transform="translate(366.80,633.64) scale(0.685,1)" font-family='"Liberation Sans", "DejaVu Sans", sans-serif' font-size="9.8" font-weight="normal" text-anchor="end" fill="#1c1c1c" class="tk">120</text>
<line x1="371.80" y1="604.55" x2="374.40" y2="604.55" stroke="#c6c6c6" stroke-width="1"/>
<text transform="translate(366.80,607.49) scale(0.685,1)" font-family='"Liberation Sans", "DejaVu Sans", sans-serif' font-size="9.8" font-weight="normal" text-anchor="end" fill="#1c1c1c" class="tk">140</text>
<line x1="371.80" y1="578.40" x2="374.40" y2="578.40" stroke="#c6c6c6" stroke-width="1"/>
<text transform="translate(366.80,581.34) scale(0.685,1)" font-family='"Liberation Sans", "DejaVu Sans", sans-serif' font-size="9.8" font-weight="normal" text-anchor="end" fill="#1c1c1c" class="tk">160</text>
<rect x="383.62" y="656.85" width="12.20" height="130.75" fill="#8c8c8c"/>
<rect x="414.26" y="757.14" width="12.20" height="30.46" fill="#8c8c8c"/>
<rect x="444.90" y="695.55" width="12.20" height="92.05" fill="#8c8c8c"/>
<rect x="475.54" y="593.31" width="12.20" height="194.29" fill="#8c8c8c"/>
<rect x="506.18" y="698.04" width="12.20" height="89.56" fill="#8c8c8c"/>
<rect x="536.82" y="684.83" width="12.20" height="102.77" fill="#8c8c8c"/>
<rect x="567.46" y="723.66" width="12.20" height="63.94" fill="#8c8c8c"/>
<rect x="598.10" y="684.83" width="12.20" height="102.77" fill="#8c8c8c"/>
<rect x="628.74" y="698.04" width="12.20" height="89.56" fill="#8c8c8c"/>
<rect x="659.38" y="695.55" width="12.20" height="92.05" fill="#8c8c8c"/>
<line x1="374.40" y1="787.60" x2="680.80" y2="787.60" stroke="#c6c6c6" stroke-width="1"/>
<line x1="374.40" y1="787.60" x2="374.40" y2="791.00" stroke="#c6c6c6" stroke-width="1"/>
<line x1="405.04" y1="787.60" x2="405.04" y2="791.00" stroke="#c6c6c6" stroke-width="1"/>
<line x1="435.68" y1="787.60" x2="435.68" y2="791.00" stroke="#c6c6c6" stroke-width="1"/>
<line x1="466.32" y1="787.60" x2="466.32" y2="791.00" stroke="#c6c6c6" stroke-width="1"/>
<line x1="496.96" y1="787.60" x2="496.96" y2="791.00" stroke="#c6c6c6" stroke-width="1"/>
<line x1="527.60" y1="787.60" x2="527.60" y2="791.00" stroke="#c6c6c6" stroke-width="1"/>
<line x1="558.24" y1="787.60" x2="558.24" y2="791.00" stroke="#c6c6c6" stroke-width="1"/>
<line x1="588.88" y1="787.60" x2="588.88" y2="791.00" stroke="#c6c6c6" stroke-width="1"/>
<line x1="619.52" y1="787.60" x2="619.52" y2="791.00" stroke="#c6c6c6" stroke-width="1"/>
<line x1="650.16" y1="787.60" x2="650.16" y2="791.00" stroke="#c6c6c6" stroke-width="1"/>
<line x1="680.80" y1="787.60" x2="680.80" y2="791.00" stroke="#c6c6c6" stroke-width="1"/>
<text transform="translate(389.72,806.00) scale(0.648,1)" font-family='"Liberation Sans", "DejaVu Sans", sans-serif' font-size="9.8" font-weight="normal" text-anchor="middle" fill="#1c1c1c" class="tk">PC</text>
<line x1="420.50" y1="747.00" x2="420.50" y2="766.00" stroke="#111" stroke-width="1.0"/>
<line x1="419.00" y1="747.50" x2="422.00" y2="747.50" stroke="#111" stroke-width="1.0"/>
<line x1="419.00" y1="765.50" x2="422.00" y2="765.50" stroke="#111" stroke-width="1.0"/>
<text transform="translate(420.36,806.00) scale(0.648,1)" font-family='"Liberation Sans", "DejaVu Sans", sans-serif' font-size="9.8" font-weight="normal" text-anchor="middle" fill="#1c1c1c" class="tk">EDTA</text>
<line x1="451.50" y1="686.00" x2="451.50" y2="705.00" stroke="#111" stroke-width="1.0"/>
<line x1="450.00" y1="686.50" x2="453.00" y2="686.50" stroke="#111" stroke-width="1.0"/>
<line x1="450.00" y1="704.50" x2="453.00" y2="704.50" stroke="#111" stroke-width="1.0"/>
<text transform="translate(451.00,806.00) scale(0.648,1)" font-family='"Liberation Sans", "DejaVu Sans", sans-serif' font-size="9.8" font-weight="normal" text-anchor="middle" fill="#1c1c1c" class="tk">Fe2+</text>
<text transform="translate(481.64,806.00) scale(0.648,1)" font-family='"Liberation Sans", "DejaVu Sans", sans-serif' font-size="9.8" font-weight="normal" text-anchor="middle" fill="#1c1c1c" class="tk">Zn2+</text>
<line x1="512.50" y1="689.00" x2="512.50" y2="708.00" stroke="#111" stroke-width="1.0"/>
<line x1="511.00" y1="689.50" x2="514.00" y2="689.50" stroke="#111" stroke-width="1.0"/>
<line x1="511.00" y1="707.50" x2="514.00" y2="707.50" stroke="#111" stroke-width="1.0"/>
<text transform="translate(512.28,806.00) scale(0.648,1)" font-family='"Liberation Sans", "DejaVu Sans", sans-serif' font-size="9.8" font-weight="normal" text-anchor="middle" fill="#1c1c1c" class="tk">Ca2+</text>
<text transform="translate(542.92,806.00) scale(0.648,1)" font-family='"Liberation Sans", "DejaVu Sans", sans-serif' font-size="9.8" font-weight="normal" text-anchor="middle" fill="#1c1c1c" class="tk">N+</text>
<line x1="573.50" y1="710.00" x2="573.50" y2="738.00" stroke="#111" stroke-width="1.0"/>
<line x1="572.00" y1="710.50" x2="575.00" y2="710.50" stroke="#111" stroke-width="1.0"/>
<line x1="572.00" y1="737.50" x2="575.00" y2="737.50" stroke="#111" stroke-width="1.0"/>
<text transform="translate(573.56,806.00) scale(0.648,1)" font-family='"Liberation Sans", "DejaVu Sans", sans-serif' font-size="9.8" font-weight="normal" text-anchor="middle" fill="#1c1c1c" class="tk">Cu2+</text>
<line x1="604.50" y1="677.00" x2="604.50" y2="693.00" stroke="#111" stroke-width="1.0"/>
<line x1="603.00" y1="677.50" x2="606.00" y2="677.50" stroke="#111" stroke-width="1.0"/>
<line x1="603.00" y1="692.50" x2="606.00" y2="692.50" stroke="#111" stroke-width="1.0"/>
<text transform="translate(604.20,806.00) scale(0.648,1)" font-family='"Liberation Sans", "DejaVu Sans", sans-serif' font-size="9.8" font-weight="normal" text-anchor="middle" fill="#1c1c1c" class="tk">Cr3+</text>
<line x1="634.50" y1="693.00" x2="634.50" y2="703.00" stroke="#111" stroke-width="1.0"/>
<line x1="633.00" y1="693.50" x2="636.00" y2="693.50" stroke="#111" stroke-width="1.0"/>
<line x1="633.00" y1="702.50" x2="636.00" y2="702.50" stroke="#111" stroke-width="1.0"/>
<text transform="translate(634.84,806.00) scale(0.648,1)" font-family='"Liberation Sans", "DejaVu Sans", sans-serif' font-size="9.8" font-weight="normal" text-anchor="middle" fill="#1c1c1c" class="tk">Mg2+</text>
<line x1="665.50" y1="690.00" x2="665.50" y2="700.00" stroke="#111" stroke-width="1.0"/>
<line x1="664.00" y1="690.50" x2="667.00" y2="690.50" stroke="#111" stroke-width="1.0"/>
<line x1="664.00" y1="699.50" x2="667.00" y2="699.50" stroke="#111" stroke-width="1.0"/>
<text transform="translate(665.48,806.00) scale(0.648,1)" font-family='"Liberation Sans", "DejaVu Sans", sans-serif' font-size="9.8" font-weight="normal" text-anchor="middle" fill="#1c1c1c" class="tk">Mn+</text>
<text transform="translate(360.60,683.10) rotate(-90)" font-family='"DejaVu Sans", "Liberation Sans", sans-serif' font-size="6.5" font-weight="bold" text-anchor="middle" fill="#111" stroke="#111" stroke-width="0.2" textLength="80.0" lengthAdjust="spacingAndGlyphs">Relative activity (%)</text>
<text transform="translate(388.2,578.1) rotate(0.3)" font-family='"Liberation Sans", "DejaVu Sans", sans-serif' font-size="14.6" font-weight="bold" fill="#000" stroke="#000" stroke-width="0.5" stroke-linejoin="round">e</text>
</g>
</g>
</svg>
</body>
</html>
